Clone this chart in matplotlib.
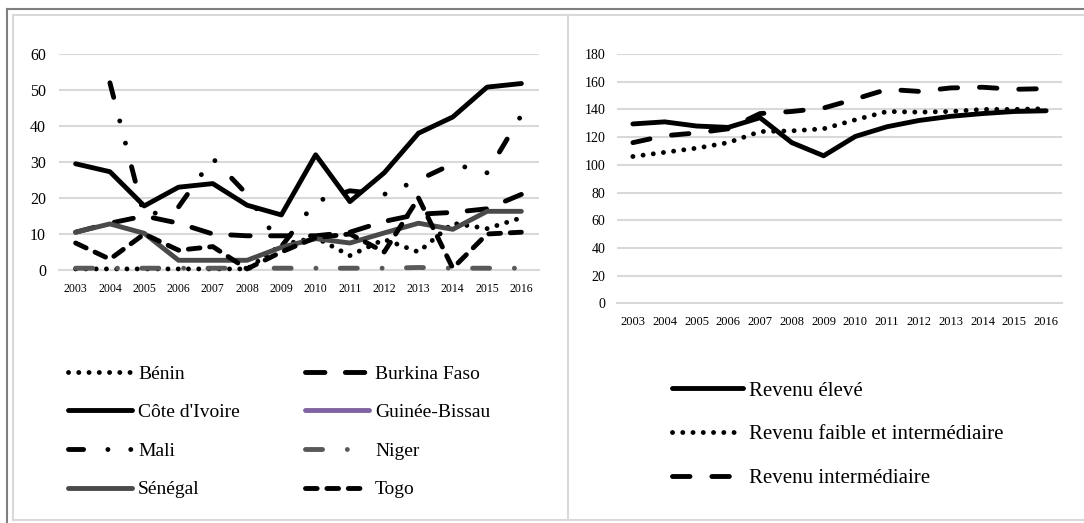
import matplotlib
matplotlib.use("Agg")
import matplotlib.pyplot as plt
from matplotlib.lines import Line2D
import numpy as np

plt.rcParams['font.family'] = ['Liberation Serif', 'DejaVu Serif']

years = [str(y) for y in range(2003, 2017)]

# left chart (UEMOA countries)
benin = [0.3, 0.3, 0.3, 0.3, 0.3, 0.3, 7, 9, 4, 8.5, 5, 13, 11.5, 14.5]
burkina = [10.5, 13, 15, 13, 10, 9.5, 9.5, 9.5, 10.5, 13.5, 15.5, 16, 17, 21]
cote = [29.5, 27.3, 17.8, 23, 24, 18, 15.3, 32, 19, 27, 38, 42.5, 50.8, 51.8]
guinee = [np.nan] * 14
mali = [np.nan, 52, 15, 17.5, 31, 21, 6.5, 19, 22, 21, 25, 29.5, 27, 43]
niger = [0.5, 0.5, 0.5, 0.5, 0.5, 0.5, 0.5, 0.5, 0.5, 0.5, 0.7, 0.5, 0.5, 0.5]
senegal = [10.5, 12.8, 10.2, 2.7, 2.7, 2.7, 6.3, 8.7, 7.5, 10.3, 13, 11.3, 16.3, 16.3]
togo = [7.5, 3, 10, 5.5, 6.5, 0.3, 5, 9, 10, 5, 20, 0.5, 10, 10.5]

# right chart (income groups)
eleve = [129.5, 131, 128, 127, 134, 116, 106.5, 120.5, 127.5, 132, 135, 137, 138.5, 139]
faible = [106, 109, 112, 116, 124, 124.5, 126, 132.5, 138.5, 138, 138.5, 140, 140, 140.5]
inter = [116, 121, 123, 126, 137, 138.5, 141, 147.5, 154.5, 153, 155.5, 156, 154.5, 155]

W, H = 1084, 523
fig = plt.figure(figsize=(W / 100, H / 100), dpi=100)

def px(x0, y0, x1, y1):
    return [x0 / W, 1 - y1 / H, (x1 - x0) / W, (y1 - y0) / H]

grid_c = '#d9d9d9'
lw = 3.5
x = np.arange(len(years))

dot = (0, (0.01, 2.1))
long_dash = (0, (4, 4.2))
short_dash = (0, (2.4, 2.0))
dash_dot_dot = (0, (3.1, 5, 0.01, 4.7, 0.01, 5))
dash_dot = (0, (3.5, 5.1, 0.01, 5))

def style_ax(ax, ymax, step, ylabsize, xlabsize, xpad, ypad):
    ax.set_xlim(-0.5, len(years) - 0.5)
    ax.set_ylim(0, ymax)
    ax.set_yticks(np.arange(0, ymax + 1, step))
    ax.set_xticks(x)
    ax.set_xticklabels(years)
    for s in ax.spines.values():
        s.set_visible(False)
    ax.yaxis.grid(True, color=grid_c, lw=1.5)
    ax.axhline(0, color=grid_c, lw=1.5, clip_on=False, zorder=0.5)
    ax.set_axisbelow(True)
    ax.tick_params(length=0)
    ax.tick_params(axis='y', labelsize=ylabsize, pad=ypad)
    ax.tick_params(axis='x', labelsize=xlabsize, pad=xpad)

# ---- left chart
ax1 = fig.add_axes(px(58.5, 54, 538.5, 270))
l_benin, = ax1.plot(x, benin, color='black', lw=lw, ls=dot, dash_capstyle='round', clip_on=False)
l_burk, = ax1.plot(x, burkina, color='black', lw=lw, ls=long_dash, dash_capstyle='round', clip_on=False)
l_cote, = ax1.plot(x, cote, color='black', lw=lw, solid_capstyle='round', clip_on=False)
l_guin, = ax1.plot(x, guinee, color='#8064a2', lw=lw, solid_capstyle='round', clip_on=False)
l_mali, = ax1.plot(x, mali, color='black', lw=lw, ls=dash_dot_dot, dash_capstyle='round', clip_on=False)
l_niger, = ax1.plot(x, niger, color='#595959', lw=lw, ls=dash_dot, dash_capstyle='round', clip_on=False)
l_sen, = ax1.plot(x, senegal, color='#4a4a4a', lw=lw, solid_capstyle='round', clip_on=False)
l_togo, = ax1.plot(x, togo, color='black', lw=lw, ls=short_dash, dash_capstyle='round', clip_on=False)
style_ax(ax1, 60, 10, 11.5, 8.5, 9.5, 9)

# ---- right chart
ax2 = fig.add_axes(px(617, 54, 1062, 303.3))
l_el, = ax2.plot(x, eleve, color='black', lw=lw, solid_capstyle='round', clip_on=False)
l_fa, = ax2.plot(x, faible, color='black', lw=lw, ls=dot, dash_capstyle='round', clip_on=False)
l_in, = ax2.plot(x, inter, color='black', lw=lw, ls=(0, (3.6, 4.5)), dash_capstyle='round', clip_on=False)
style_ax(ax2, 180, 20, 10, 9, 9, 8.5)

# ---- legends
leg_kw = dict(loc='upper left', frameon=False, borderpad=0, borderaxespad=0,
              handletextpad=0.3)
lg1 = fig.legend([l_benin, l_cote, l_mali, l_sen],
                 ['Bénin', "Côte d'Ivoire", 'Mali', 'Sénégal'],
                 bbox_to_anchor=(68 / W, 1 - 365 / H), fontsize=14,
                 handlelength=3.3, labelspacing=1.08, **leg_kw)
lg2 = fig.legend([l_burk, l_guin, l_niger, l_togo],
                 ['Burkina Faso', 'Guinée-Bissau', 'Niger', 'Togo'],
                 bbox_to_anchor=(305 / W, 1 - 365 / H), fontsize=14,
                 handlelength=3.3, labelspacing=1.08, **leg_kw)
lg3 = fig.legend([l_el, l_fa, l_in],
                 ['Revenu élevé', 'Revenu faible et intermédiaire', 'Revenu intermédiaire'],
                 bbox_to_anchor=(672 / W, 1 - 381 / H), fontsize=15,
                 handlelength=3.4, labelspacing=1.16, **leg_kw)

# ---- frame lines
def fline(xs, ys, color, width):
    fig.add_artist(Line2D([v / W for v in xs], [1 - v / H for v in ys],
                          transform=fig.transFigure, color=color, lw=width))

fline([7, W], [9, 9], '#7f7f7f', 1.5)
fline([7, 7], [9, H], '#7f7f7f', 1.5)
fline([13, W], [15, 15], grid_c, 1.5)
fline([13, 13], [15, 520], grid_c, 1.5)
fline([568, 568], [15, 520], grid_c, 1.5)
fline([13, W], [520, 520], grid_c, 1.5)

fig.savefig('out.png', dpi=100)
